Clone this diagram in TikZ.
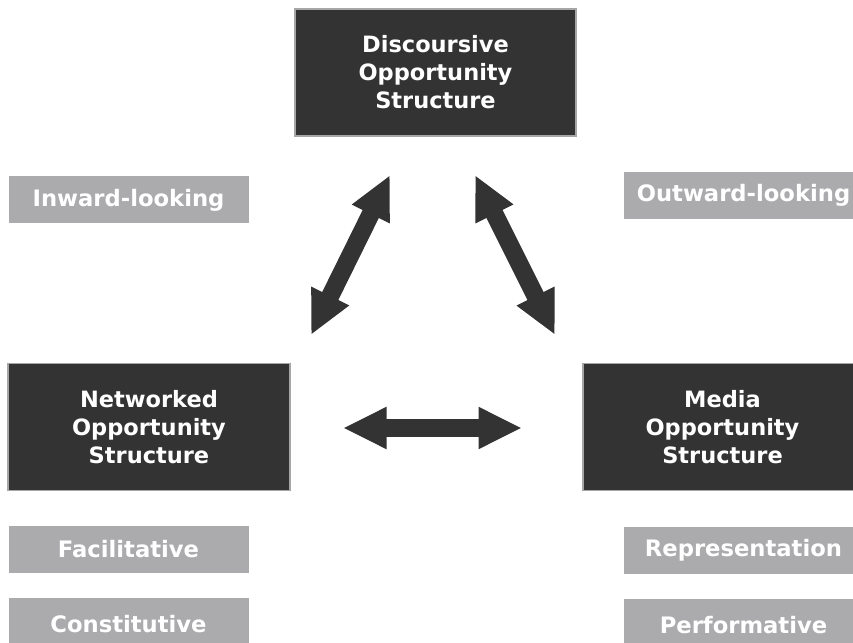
\documentclass[tikz,border=0pt]{standalone}
\usepackage{fontspec}
\setmainfont{DejaVu Sans}
\usetikzlibrary{arrows.meta}
\definecolor{darkbox}{HTML}{333333}
\definecolor{greybox}{HTML}{ABABAE}

\begin{document}
\begin{tikzpicture}[
  structure/.style={rectangle, fill=darkbox, draw=gray!70, line width=0.6pt, text=white, align=center,
    font=\fontsize{12.8}{16}\selectfont\bfseries, minimum height=2.54cm, inner sep=0pt},
  facet/.style={rectangle, fill=greybox, text=white, font=\fontsize{12.9}{15}\selectfont\bfseries,
    minimum width=4.8cm, minimum height=0.94cm, inner sep=0pt},
  link/.style={line width=0.36cm, darkbox, {Triangle[length=0.87cm, width=0.78cm]}-{Triangle[length=0.87cm, width=0.78cm]}}]
  \clip (0,0) rectangle (17.06,12.84);

  \node[structure, minimum width=5.62cm] (dos) at (8.71,11.39) {Discoursive\\Opportunity\\Structure};
  \node[structure, minimum width=5.64cm] (nos) at (2.98,4.30) {Networked\\Opportunity\\Structure};
  \node[structure, minimum width=5.58cm] (mos) at (14.45,4.30) {Media\\Opportunity\\Structure};

  \node[facet] (inward) at (2.57,8.84) {Inward-looking};
  \node[facet] (outward) at (14.87,8.93) {Outward-looking};
  \node[facet] (facil) at (2.57,1.86) {Facilitative};
  \node[facet, minimum height=1.04cm] (const) at (2.57,0.36) {Constitutive};
  \node[facet] (repr) at (14.87,1.84) {Representation};
  \node[facet, minimum height=1.04cm] (perf) at (14.87,0.34) {Performative};

  \coordinate (dl) at (7.80,9.34); \coordinate (nt) at (6.22,6.14);
  \coordinate (dr) at (9.50,9.34); \coordinate (mt) at (11.10,6.14);
  \coordinate (nr) at (6.86,4.28); \coordinate (ml) at (10.44,4.28);

  \draw[link] (dl) -- (nt); \draw[link] (dr) -- (mt); \draw[link] (nr) -- (ml);
\end{tikzpicture}
\end{document}
